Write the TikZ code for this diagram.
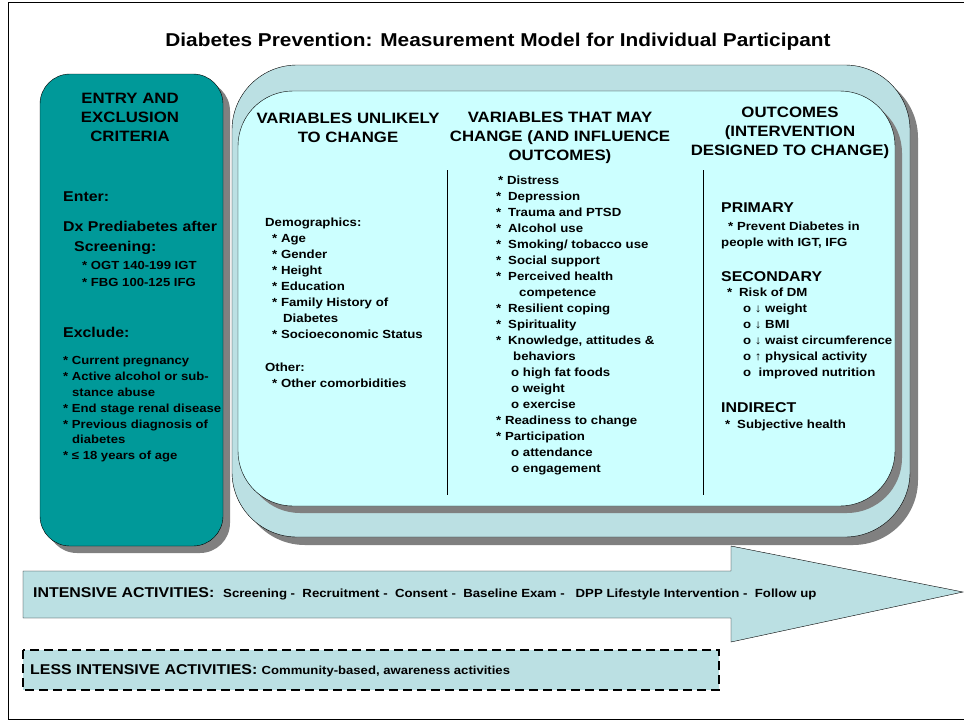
\documentclass[tikz,border=0pt]{standalone}
\usepackage{fontspec}
\setmainfont{Liberation Sans}[FakeStretch=1.12]
\definecolor{tealfill}{HTML}{009999}
\definecolor{outerfill}{HTML}{BBE0E3}
\definecolor{innerfill}{HTML}{CCFFFF}
\definecolor{shadowgray}{HTML}{808080}
\newcommand{\headfont}{\fontsize{15}{19}\selectfont\bfseries}
\newcommand{\subfont}{\fontsize{14.2}{20}\selectfont\bfseries}
\newcommand{\itemfont}{\fontsize{11.8}{16}\selectfont\bfseries}
\newcommand{\st}{\makebox[12pt][l]{*}}
\tikzset{
  head/.style={font=\headfont, align=center, inner sep=0pt},
  subhead/.style={font=\subfont, anchor=west, inner sep=0pt},
  itemlist/.style={font=\itemfont, align=left, anchor=west, inner sep=0pt},
  shadowfill/.style={fill=shadowgray},
}
\begin{document}
\begin{tikzpicture}[x=1pt,y=-1pt]
\useasboundingbox (0,0) rectangle (964,721);

\draw[line width=1pt] (964,2) -- (8,2) -- (8,719) -- (964,719);
\node (title) at (498,42) {\fontsize{18.6}{22}\selectfont\bfseries Diabetes Prevention: Measurement Model for Individual Participant};

% entry and exclusion box
\fill[shadowfill, rounded corners=30pt] (47,81) rectangle (230,553);
\draw[fill=tealfill, rounded corners=30pt] (40,74) rectangle (223,546);

\node[head] (entryhead) at (130,117) {ENTRY AND\\EXCLUSION\\CRITERIA};
\node[subhead] (enter) at (63,197) {Enter:};
\node[subhead, align=left] (dx) at (63,238) {Dx Prediabetes after\\\hspace*{11pt}Screening:};
\node[itemlist, font=\fontsize{11.7}{17}\selectfont\bfseries] (entrylist) at (82,273.5) {* OGT 140-199 IGT\\* FBG 100-125 IFG};
\node[subhead] (exclude) at (63,332) {Exclude:};
\node[itemlist, font=\fontsize{11.7}{15.8}\selectfont\bfseries] (exclist) at (63,409.5)
  {* Current pregnancy\\* Active alcohol or sub-\\\hspace*{9pt}stance abuse\\* End stage renal disease\\* Previous diagnosis of\\\hspace*{9pt}diabetes\\* ≤ 18 years of age};

% variables box
\fill[shadowfill, rounded corners=65pt] (240,73) rectangle (918,545);
\draw[fill=outerfill, rounded corners=65pt] (232,65) rectangle (910,537);
\fill[shadowfill, rounded corners=55pt] (245,98) rectangle (902,513);
\draw[fill=innerfill, rounded corners=55pt] (238,91) rectangle (895,506);

\draw[line width=1pt] (447,170) -- (447,495);
\draw[line width=1pt] (703,170) -- (703,495);

\node[head] (unlikelyhead) at (348,128) {VARIABLES UNLIKELY\\TO CHANGE};
\node[head] (mayhead) at (560,138) {VARIABLES THAT MAY\\CHANGE (AND INFLUENCE\\OUTCOMES)};
\node[head] (outhead) at (790,132.5) {OUTCOMES\\(INTERVENTION\\DESIGNED TO CHANGE)};

\node[itemlist] (unlikely) at (265,303)
  {Demographics:\\
   \hspace*{7pt}* Age\\
   \hspace*{7pt}* Gender\\
   \hspace*{7pt}* Height\\
   \hspace*{7pt}* Education\\
   \hspace*{7pt}* Family History of\\
   \hspace*{18pt}Diabetes\\
   \hspace*{7pt}* Socioeconomic Status\\[17pt]
   Other:\\
   \hspace*{7pt}* Other comorbidities};

\node[itemlist] (may) at (496,325.5)
  {\hspace*{2pt}* Distress\\
   \st Depression\\
   \st Trauma and PTSD\\
   \st Alcohol use\\
   \st Smoking/ tobacco use\\
   \st Social support\\
   \st Perceived health\\
   \hspace*{23pt}competence\\
   \st Resilient coping\\
   \st Spirituality\\
   \st Knowledge, attitudes \&\\
   \hspace*{17pt}behaviors\\
   \hspace*{15pt}o high fat foods\\
   \hspace*{15pt}o weight\\
   \hspace*{15pt}o exercise\\
   * Readiness to change\\
   * Participation\\
   \hspace*{15pt}o attendance\\
   \hspace*{15pt}o engagement};

\node[subhead] (primary) at (721,208) {PRIMARY};
\node[itemlist] (primlist) at (721,235.5) {\hspace*{7pt}* Prevent Diabetes in\\people with IGT, IFG};
\node[subhead] (secondary) at (721,277) {SECONDARY};
\node[itemlist] (seclist) at (727,333.5)
  {\st Risk of DM\\
   \hspace*{16pt}o ↓ weight\\
   \hspace*{16pt}o ↓ BMI\\
   \hspace*{16pt}o ↓ waist circumference\\
   \hspace*{16pt}o ↑ physical activity\\
   \hspace*{16pt}o \ improved nutrition};
\node[subhead] (indirect) at (721,408) {INDIRECT};
\node[itemlist] (indlist) at (725,425) {\st Subjective health};

% activities
\draw[fill=outerfill] (23,571) -- (731,571) -- (731,546) -- (963,592) -- (731,642) -- (731,618) -- (23,618) -- cycle;
\node[anchor=west, inner sep=0pt, font=\bfseries] (intensive) at (33,594)
  {\fontsize{14.2}{17}\selectfont INTENSIVE ACTIVITIES: \ \fontsize{11.8}{14}\selectfont Screening - \ Recruitment - \ Consent - \ Baseline Exam - \ \ DPP Lifestyle Intervention - \ Follow up};

\draw[dash pattern=on 9pt off 5pt, line width=1.3pt, fill=outerfill] (23,650) rectangle (719,690);
\node[anchor=west, inner sep=0pt, font=\bfseries] (lessintensive) at (30,671)
  {\fontsize{14.2}{17}\selectfont LESS INTENSIVE ACTIVITIES: \fontsize{11.7}{14}\selectfont Community-based, awareness activities};

\end{tikzpicture}
\end{document}
